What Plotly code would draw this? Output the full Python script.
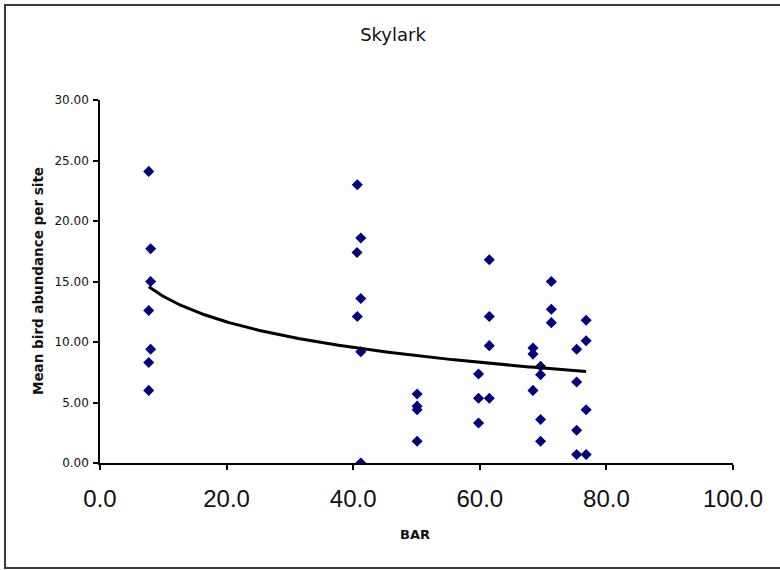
import numpy as np
import plotly.graph_objects as go

# Mean skylark abundance per site against BAR
bar = [
    7.7, 8.0, 8.0, 7.7, 8.0, 7.7, 7.7,
    40.65, 41.2, 40.6, 41.2, 40.65, 41.2, 41.2,
    50.1, 50.1, 50.1, 50.1,
    59.8, 59.8, 59.8, 61.5, 61.5, 61.5, 61.5,
    68.4, 68.4, 68.4, 69.6, 69.6, 69.6, 69.6, 71.3, 71.3, 71.3,
    75.3, 75.3, 75.3, 75.3, 76.8, 76.8, 76.8, 76.8,
]
abundance = [
    24.1, 17.7, 15.0, 12.6, 9.4, 8.3, 6.0,
    23.0, 18.6, 17.4, 13.6, 12.1, 9.2, 0.0,
    5.7, 4.7, 4.4, 1.8,
    7.35, 5.35, 3.3, 16.8, 12.1, 9.7, 5.35,
    9.5, 9.0, 6.0, 8.0, 7.3, 3.6, 1.8, 15.0, 12.7, 11.6,
    9.4, 6.7, 2.7, 0.7, 11.8, 10.1, 4.4, 0.7,
]

# Logarithmic trendline: y = intercept + slope * ln(x)
trend_intercept = 20.8
trend_slope = -3.05

x_ticks = [0, 20, 40, 60, 80, 100]
x_tick_labels = ["0.0", "20.0", "40.0", "60.0", "80.0", "100.0"]
y_ticks = [0, 5, 10, 15, 20, 25, 30]
y_tick_labels = ["0.00", "5.00", "10.00", "15.00", "20.00", "25.00", "30.00"]

W, H = 780, 570
L, R, T, B = 100, 733, 100, 463  # plot area in pixels


def px_x(p):
    return (p - L) / (R - L)


def px_y(p):
    return (B - p) / (B - T)


tx = np.linspace(min(bar), max(bar), 200)
ty = trend_intercept + trend_slope * np.log(tx)

fig = go.Figure()
fig.add_trace(go.Scatter(
    x=bar, y=abundance, mode="markers",
    marker=dict(symbol="diamond", size=8.5, color="#000080",
                line=dict(width=0)),
    showlegend=False, hoverinfo="x+y",
))
fig.add_trace(go.Scatter(
    x=tx, y=ty, mode="lines",
    line=dict(color="black", width=3),
    showlegend=False, hoverinfo="skip",
))

fig.update_layout(
    width=W, height=H,
    margin=dict(l=L, r=W - R, t=T, b=H - B, pad=0),
    paper_bgcolor="white", plot_bgcolor="white",
    title=dict(text="Skylark", x=393 / W, xanchor="center",
               y=1 - 35 / H, yanchor="middle",
               font=dict(family="DejaVu Sans", size=18, color="#111111")),
    xaxis=dict(range=[0, 100], tickmode="array", tickvals=x_ticks,
               ticktext=x_tick_labels, showgrid=False, zeroline=False,
               showline=True, linecolor="black", linewidth=1.5,
               ticks="outside", ticklen=5, tickwidth=1.5, tickcolor="black",
               tickfont=dict(family="Liberation Sans", size=24, color="#111111"),
               ticklabelstandoff=8),
    yaxis=dict(range=[0, 30], tickmode="array", tickvals=y_ticks,
               ticktext=y_tick_labels, showgrid=False, zeroline=False,
               showline=True, linecolor="black", linewidth=1.5,
               ticks="outside", ticklen=5, tickwidth=1.5, tickcolor="black",
               tickfont=dict(family="DejaVu Sans", size=12, color="#111111"),
               ticklabelstandoff=2),
    annotations=[
        dict(text="<b>Mean bird abundance per site</b>", textangle=-90,
             xref="paper", yref="paper", x=px_x(38), y=px_y(281),
             xanchor="center", yanchor="middle", showarrow=False,
             font=dict(family="DejaVu Sans", size=13.5, color="#111111")),
        dict(text="<b>BAR</b>",
             xref="paper", yref="paper", x=px_x(415), y=px_y(534),
             xanchor="center", yanchor="middle", showarrow=False,
             font=dict(family="DejaVu Sans", size=13, color="#111111")),
    ],
    shapes=[
        dict(type="rect", xref="paper", yref="paper",
             x0=px_x(5), x1=px_x(800), y0=px_y(568), y1=px_y(5),
             line=dict(color="#3a3a3a", width=2), fillcolor="rgba(0,0,0,0)",
             layer="below"),
    ],
)

fig.write_html("out.html")
